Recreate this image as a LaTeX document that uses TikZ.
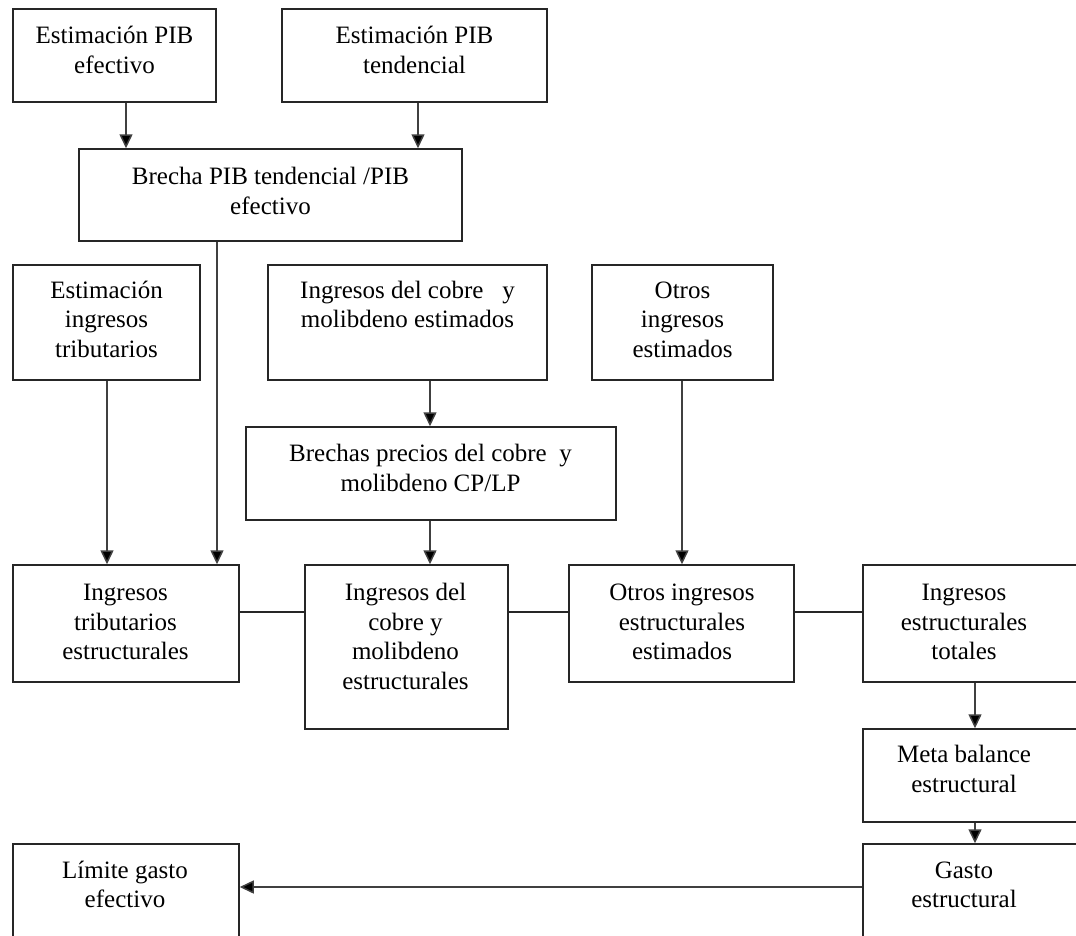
\documentclass[tikz,border=0pt]{standalone}
\usepackage{fontspec}
\setmainfont{Liberation Serif}
\usetikzlibrary{arrows.meta}
\begin{document}
\begin{tikzpicture}[x=1pt,y=-1pt,
  panel/.style={draw=black!85,line width=1.5pt,inner sep=0pt,rectangle},
  txt/.style={inner sep=0pt,align=center,anchor=north,font=\fontsize{25}{29.5}\selectfont},
  arr/.style={draw=black!75,line width=1.5pt,-{Triangle[width=13pt,length=14pt,fill=black]}},
  link/.style={draw=black!85,line width=1.5pt}]
\useasboundingbox[fill=white] (0,0) rectangle (1076,935);
\clip (0,0) rectangle (1076,935);
% boxes
\node[panel,minimum width=203pt,minimum height=93pt] (A) at (114.5,55.5) {};
\node[panel,minimum width=265pt,minimum height=93pt] (B) at (414.5,55.5) {};
\node[panel,minimum width=383pt,minimum height=92pt] (C) at (270.5,195) {};
\node[panel,minimum width=187pt,minimum height=115pt] (D) at (106.5,322.5) {};
\node[panel,minimum width=279pt,minimum height=115pt] (E) at (407.5,322.5) {};
\node[panel,minimum width=181pt,minimum height=115pt] (F) at (682.5,322.5) {};
\node[panel,minimum width=370pt,minimum height=93pt] (G) at (431,473.5) {};
\node[panel,minimum width=226pt,minimum height=117pt] (H) at (126,623.5) {};
\node[panel,minimum width=203pt,minimum height=164pt] (I) at (406.5,647) {};
\node[panel,minimum width=225pt,minimum height=117pt] (K) at (681.5,623.5) {};
\node[panel,minimum width=227pt,minimum height=117pt] (L) at (976.5,623.5) {};
\node[panel,minimum width=227pt,minimum height=93pt] (M) at (976.5,775.5) {};
\node[panel,minimum width=227pt,minimum height=116pt] (N) at (976.5,902) {};
\node[panel,minimum width=226pt,minimum height=116pt] (O) at (126,902) {};
% texts
\node[txt] (tA) at (114.5,23) {\strut Estimación PIB\\efectivo};
\node[txt] (tB) at (414.5,23) {\strut Estimación PIB\\tendencial};
\node[txt] (tC) at (270.5,164) {\strut Brecha PIB tendencial /PIB\\efectivo};
\node[txt] (tD) at (106.5,277.5) {\strut Estimación\\ingresos\\tributarios};
\node[txt] (tE) at (407.5,277.5) {\strut Ingresos del cobre \ \ y\\molibdeno estimados};
\node[txt] (tF) at (682.5,277.5) {\strut Otros\\ingresos\\estimados};
\node[txt] (tG) at (430.5,441) {\strut Brechas precios del cobre \ y\\molibdeno CP/LP};
\node[txt] (tH) at (125.5,580) {\strut Ingresos\\tributarios\\estructurales};
\node[txt] (tI) at (405.5,580) {\strut Ingresos del\\cobre y\\molibdeno\\estructurales};
\node[txt] (tK) at (682,580) {\strut Otros ingresos\\estructurales\\estimados};
\node[txt] (tL) at (964,580) {\strut Ingresos\\estructurales\\totales};
\node[txt] (tM) at (964,742) {\strut Meta balance\\estructural};
\node[txt] (tN) at (964,857.5) {\strut Gasto\\estructural};
\node[txt] (tO) at (125,857.5) {\strut Límite gasto\\efectivo};
% arrows
\draw[arr] (126,0 |- A.south) -- (126,0 |- C.north);
\draw[arr] (418,0 |- B.south) -- (418,0 |- C.north);
\draw[arr] (217,0 |- C.south) -- (217,0 |- H.north);
\draw[arr] (107,0 |- D.south) -- (107,0 |- H.north);
\draw[arr] (430,0 |- E.south) -- (430,0 |- G.north);
\draw[arr] (430,0 |- G.south) -- (430,0 |- I.north);
\draw[arr] (682,0 |- F.south) -- (682,0 |- K.north);
\draw[arr] (975,0 |- L.south) -- (975,0 |- M.north);
\draw[arr] (975,0 |- M.south) -- (975,0 |- N.north);
\draw[arr] (0,887 -| N.west) -- (0,887 -| O.east);
% plain links
\draw[link] (0,612 -| H.east) -- (0,612 -| I.west);
\draw[link] (0,612 -| I.east) -- (0,612 -| K.west);
\draw[link] (0,612 -| K.east) -- (0,612 -| L.west);
\end{tikzpicture}
\end{document}
